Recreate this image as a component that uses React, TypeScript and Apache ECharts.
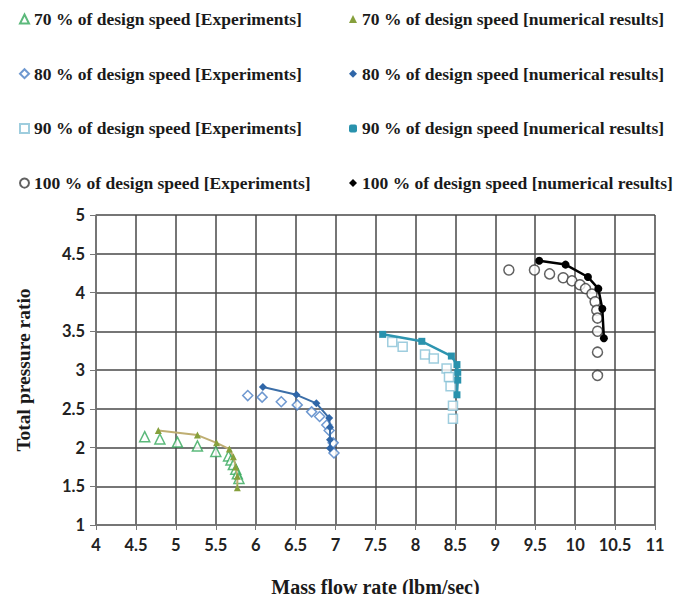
import React, { useEffect, useRef } from "react";
import * as echarts from "echarts";

const exp70: number[][] = [[4.61, 2.14], [4.8, 2.11], [5.02, 2.07], [5.27, 2.02], [5.5, 1.95], [5.66, 1.89], [5.69, 1.84], [5.72, 1.78], [5.75, 1.72], [5.77, 1.66], [5.79, 1.6]];
const num70: number[][] = [[4.78, 2.22], [5.27, 2.16], [5.51, 2.06], [5.67, 1.98], [5.72, 1.88], [5.75, 1.75], [5.77, 1.63], [5.77, 1.48]];
const exp80: number[][] = [[5.9, 2.67], [6.08, 2.65], [6.32, 2.59], [6.52, 2.55], [6.7, 2.46], [6.8, 2.4], [6.89, 2.29], [6.92, 2.22], [6.97, 2.06], [6.98, 1.93]];
const num80: number[][] = [[6.09, 2.78], [6.51, 2.68], [6.76, 2.57], [6.92, 2.38], [6.93, 2.26], [6.93, 2.1], [6.93, 1.99]];
const exp90: number[][] = [[7.71, 3.36], [7.84, 3.3], [8.12, 3.2], [8.23, 3.15], [8.39, 3.02], [8.42, 2.91], [8.44, 2.79], [8.47, 2.54], [8.47, 2.37]];
const num90: number[][] = [[7.59, 3.46], [8.08, 3.37], [8.45, 3.18], [8.52, 3.07], [8.53, 2.97], [8.53, 2.87], [8.52, 2.68]];
const exp100: number[][] = [[9.17, 4.29], [9.49, 4.29], [9.68, 4.24], [9.85, 4.19], [9.96, 4.15], [10.06, 4.1], [10.13, 4.05], [10.21, 3.98], [10.25, 3.88], [10.27, 3.77], [10.28, 3.67], [10.28, 3.5], [10.28, 3.23], [10.28, 2.93]];
const num100: number[][] = [[9.55, 4.41], [9.88, 4.36], [10.16, 4.2], [10.29, 4.05], [10.34, 3.79], [10.36, 3.41]];

const legendLeft: string[] = [
  "70 % of design speed [Experiments]",
  "80 % of design speed [Experiments]",
  "90 % of design speed [Experiments]",
  "100 % of design speed [Experiments]",
];
const legendRight: string[] = [
  "70 % of design speed [numerical results]",
  "80 % of design speed [numerical results]",
  "90 % of design speed [numerical results]",
  "100 % of design speed [numerical results]",
];

export default function App() {
  const ref = useRef<HTMLDivElement>(null);
  useEffect(() => {
    if (!ref.current) return;
    const chart = echarts.init(ref.current, undefined, { renderer: "svg" });
    const legendText = {
      fontFamily: "Liberation Serif",
      fontWeight: "bold" as const,
      fontSize: 17.5,
      color: "#1a1a1a",
      lineHeight: 18,
    };
    const expSeries = (name: string, data: number[][], symbol: string, color: string, size: number) => ({
      name,
      type: "scatter",
      data,
      symbol,
      symbolSize: size,
      itemStyle: { color: "#ffffff", borderColor: color, borderWidth: 1.5 },
      z: 3,
    });
    const numSeries = (name: string, data: number[][], symbol: string, markColor: string, lineColor: string, size: number, lw: number) => ({
      name,
      type: "line",
      data,
      symbol,
      symbolSize: size,
      showSymbol: true,
      itemStyle: { color: markColor },
      lineStyle: { color: lineColor, width: lw },
      z: 4,
    });
    const axisName = { fontFamily: "Liberation Serif", fontWeight: "bold" as const, fontSize: 19.5, color: "#1a1a1a" };
    const axisLabel = { fontFamily: "Lato", fontWeight: "bold" as const, fontSize: 16.5, color: "#222", margin: 11 };
    chart.setOption({
      animation: false,
      backgroundColor: "#ffffff",
      legend: [
        {
          orient: "vertical",
          left: 14,
          top: 5,
          itemWidth: 9,
          itemHeight: 9,
          itemGap: 36.7,
          selectedMode: false,
          textStyle: legendText,
          data: [
            { name: legendLeft[0], icon: "triangle" },
            { name: legendLeft[1], icon: "diamond" },
            { name: legendLeft[2], icon: "rect" },
            { name: legendLeft[3], icon: "circle" },
          ],
        },
        {
          orient: "vertical",
          left: 344,
          top: 5,
          itemWidth: 8,
          itemHeight: 8,
          itemGap: 36.7,
          selectedMode: false,
          textStyle: legendText,
          data: [
            { name: legendRight[0], icon: "triangle" },
            { name: legendRight[1], icon: "diamond" },
            { name: legendRight[2], icon: "roundRect" },
            { name: legendRight[3], icon: "diamond" },
          ],
        },
      ],
      grid: { left: 96, right: 26, top: 215, bottom: 70 },
      xAxis: {
        type: "value",
        min: 4,
        max: 11,
        interval: 0.5,
        name: "Mass flow rate (lbm/sec)",
        nameLocation: "middle",
        nameGap: 52,
        nameTextStyle: { ...axisName, fontSize: 20 },
        axisLine: { lineStyle: { color: "#777", width: 1.5 } },
        axisTick: { show: true, length: 5, lineStyle: { color: "#777" } },
        axisLabel,
        splitLine: { show: true, lineStyle: { color: "#484848", width: 1.5 } },
      },
      yAxis: {
        type: "value",
        min: 1,
        max: 5,
        interval: 0.5,
        name: "Total pressure ratio",
        nameLocation: "middle",
        nameGap: 63,
        nameTextStyle: axisName,
        axisLine: { show: true, lineStyle: { color: "#777", width: 1.5 } },
        axisTick: { show: true, length: 6, lineStyle: { color: "#777" } },
        axisLabel,
        splitLine: { show: true, lineStyle: { color: "#484848", width: 1.5 } },
      },
      series: [
        expSeries(legendLeft[0], exp70, "triangle", "#33a85a", 10),
        expSeries(legendLeft[1], exp80, "diamond", "#4a7ec4", 10),
        expSeries(legendLeft[2], exp90, "rect", "#86c0d6", 9),
        expSeries(legendLeft[3], exp100, "circle", "#3a3a3a", 10),
        numSeries(legendRight[0], num70, "triangle", "#86a03c", "#bfae72", 7, 2),
        numSeries(legendRight[1], num80, "diamond", "#2f66a8", "#3b6ea8", 8, 2),
        numSeries(legendRight[2], num90, "rect", "#2992ad", "#2e95b0", 7, 2.5),
        numSeries(legendRight[3], num100, "circle", "#000000", "#000000", 8, 2.5),
      ],
    });
    return () => chart.dispose();
  }, []);
  return <div ref={ref} style={{ width: 681, height: 602, margin: -8 }} />;
}
